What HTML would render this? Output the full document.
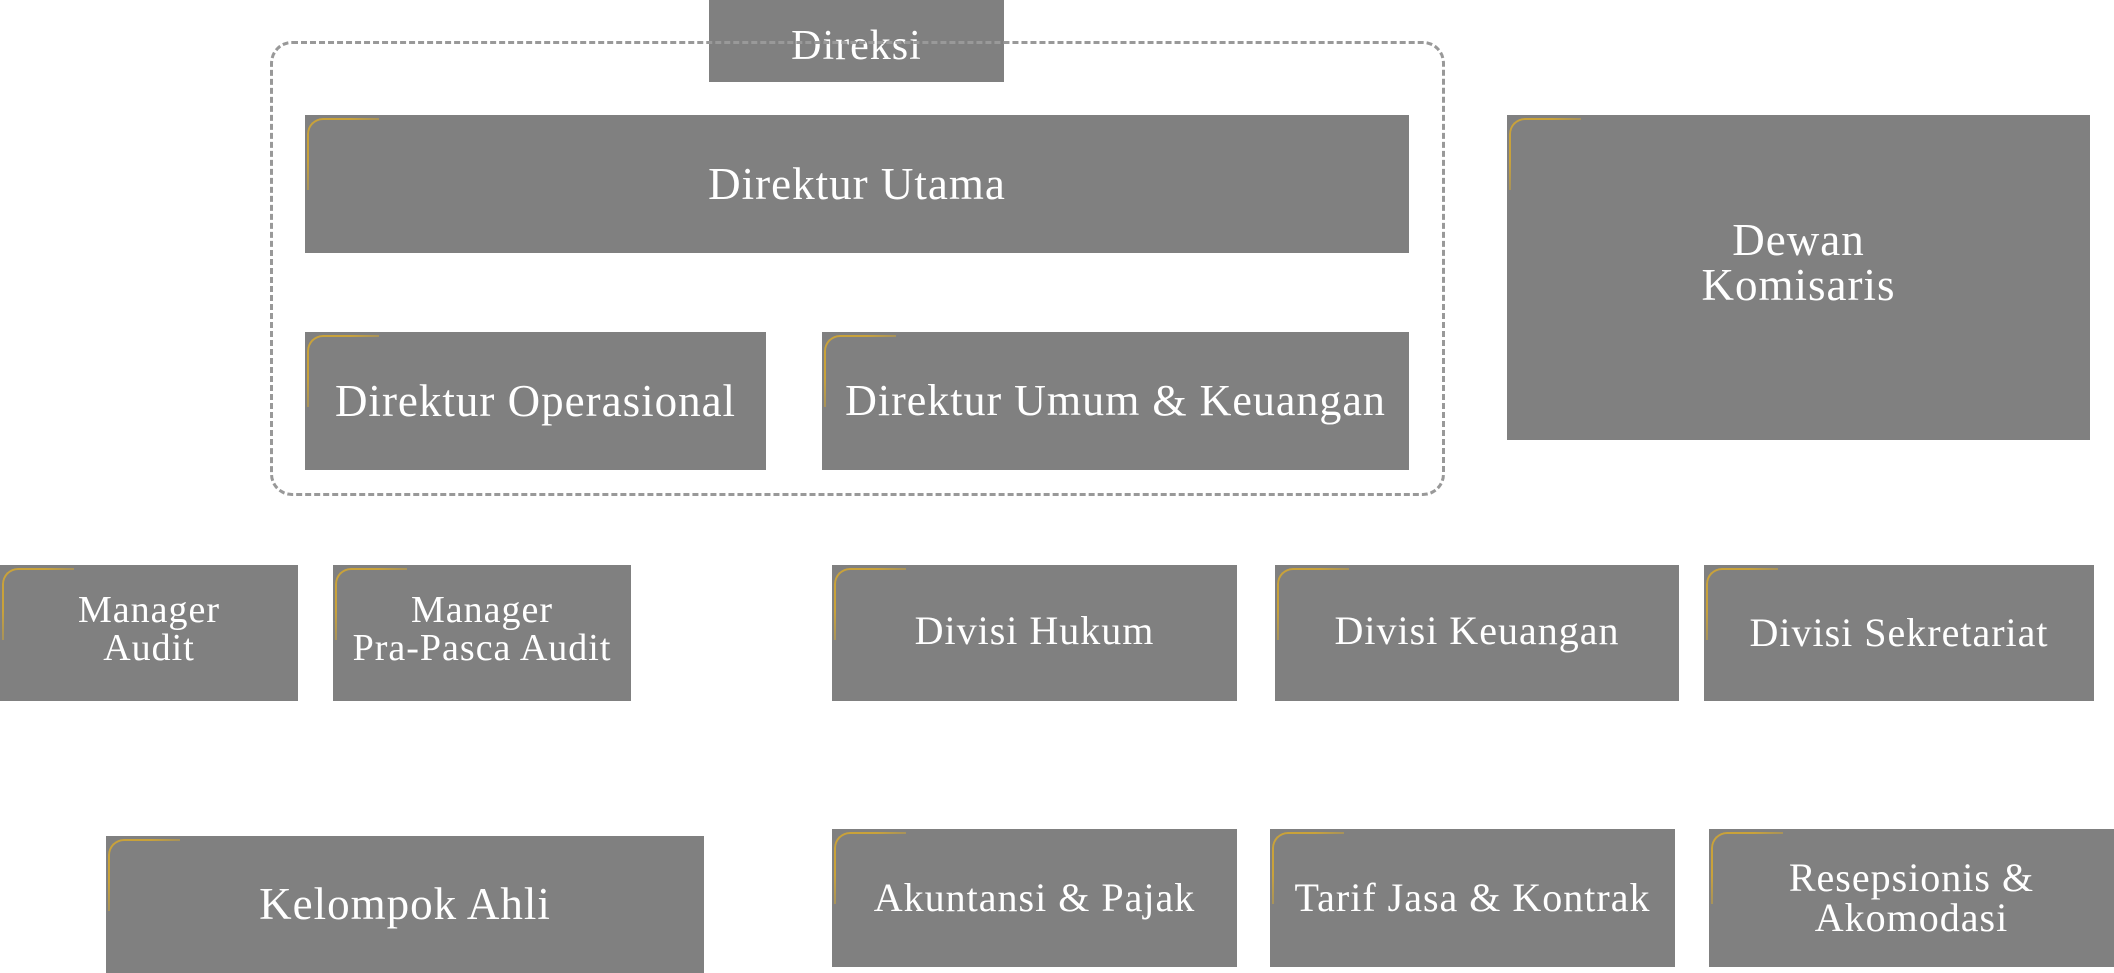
<!DOCTYPE html>
<html><head><meta charset="utf-8"><style>
html,body{margin:0;padding:0;background:#fff;}
body{width:2114px;height:973px;position:relative;overflow:hidden;font-family:"Liberation Serif",serif;}
.b{position:absolute;background:#808080;color:#fff;display:flex;align-items:center;justify-content:center;text-align:center;line-height:1.0;font-size:40px;letter-spacing:1px;box-sizing:border-box;}
.b::before{content:"";position:absolute;left:2px;top:3px;width:70px;height:70px;border-top:2px solid #c9a23a;border-left:2px solid #c9a23a;border-top-left-radius:16px;-webkit-mask:linear-gradient(135deg,#000 30%,transparent 75%);mask:linear-gradient(135deg,#000 30%,transparent 75%);}
.nb::before{display:none;}
.dash{position:absolute;left:270px;top:41px;width:1175px;height:455px;border:3px dashed #999;border-radius:22px;box-sizing:border-box;z-index:2;}
</style></head><body>
<div class="dash"></div>
<div class="b nb" style="left:709px;top:0;width:295px;height:82px;font-size:42px;padding-top:10px">Direksi</div>
<div class="b" style="left:305px;top:115px;width:1104px;height:138px;font-size:45px">Direktur Utama</div>
<div class="b" style="left:305px;top:332px;width:461px;height:138px;font-size:45px">Direktur Operasional</div>
<div class="b" style="left:822px;top:332px;width:587px;height:138px;font-size:44px">Direktur Umum &amp; Keuangan</div>
<div class="b" style="left:1507px;top:115px;width:583px;height:325px;font-size:45px;padding-bottom:30px">Dewan<br>Komisaris</div>
<div class="b" style="left:0;top:565px;width:298px;height:136px;font-size:38px;padding-bottom:8px">Manager<br>Audit</div>
<div class="b" style="left:333px;top:565px;width:298px;height:136px;font-size:38px;padding-bottom:8px">Manager<br>Pra-Pasca Audit</div>
<div class="b" style="left:832px;top:565px;width:405px;height:136px;font-size:40px;padding-bottom:4px">Divisi Hukum</div>
<div class="b" style="left:1275px;top:565px;width:404px;height:136px;font-size:40px;padding-bottom:4px">Divisi Keuangan</div>
<div class="b" style="left:1704px;top:565px;width:390px;height:136px;font-size:40px">Divisi Sekretariat</div>
<div class="b" style="left:106px;top:836px;width:598px;height:137px;font-size:45px">Kelompok Ahli</div>
<div class="b" style="left:832px;top:829px;width:405px;height:138px;font-size:40px">Akuntansi &amp; Pajak</div>
<div class="b" style="left:1270px;top:829px;width:405px;height:138px;font-size:40px">Tarif Jasa &amp; Kontrak</div>
<div class="b" style="left:1709px;top:829px;width:405px;height:138px;font-size:40px">Resepsionis &amp;<br>Akomodasi</div>
</body></html>
